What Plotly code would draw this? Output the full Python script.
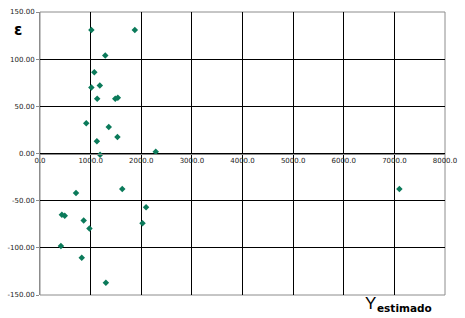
import plotly.graph_objects as go

y_estimado = [1015, 1873, 1289, 1073, 1015, 1181, 1130, 1486, 1537, 914, 1358, 1124, 1530, 1187, 2286,
              711, 1625, 432, 489, 863, 977, 2095, 2025, 413, 825, 1301, 7099]
epsilon = [131, 131, 104, 86, 70, 72, 58, 58, 59, 32, 28, 13, 17.5, -1.4, 1.8,
           -42, -37.5, -65, -66, -71, -79.5, -57, -74, -98, -110.6, -137, -37.5]

x_ticks = [0, 1000, 2000, 3000, 4000, 5000, 6000, 7000, 8000]
x_tick_labels = ["0.0", "1000.0", "2000.0", "3000.0", "4000.0", "5000.0", "6000.0", "7000.0", "8000.0"]
y_ticks = [-150, -100, -50, 0, 50, 100, 150]
y_tick_labels = ["-150.00", "-100.00", "-50.00", "0.00", "50.00", "100.00", "150.00"]

fig = go.Figure()
fig.add_trace(go.Scatter(
    x=y_estimado, y=epsilon, mode="markers",
    marker=dict(symbol="diamond", size=5, color="#0b7a5a",
                line=dict(width=0, color="#06553e")),
    showlegend=False, hoverinfo="skip"))

tick_font = dict(family="DejaVu Sans", size=7, color="#222222")

fig.update_layout(
    width=465, height=318,
    margin=dict(l=37, r=8, t=9, b=23),
    paper_bgcolor="white", plot_bgcolor="white",
    xaxis=dict(range=[0, 8000], tickvals=x_ticks, ticktext=x_tick_labels,
               showgrid=True, gridcolor="black", gridwidth=1,
               zeroline=False, showline=True, linecolor="#8c8c8c", linewidth=1,
               anchor="free", position=0.5, ticks="", tickfont=tick_font,
               ticklabeloverflow="allow"),
    yaxis=dict(range=[-150, 150], tickvals=y_ticks, ticktext=y_tick_labels,
               showgrid=True, gridcolor="black", gridwidth=1,
               zeroline=False, showline=True, linecolor="#8c8c8c", linewidth=1,
               ticks="outside", ticklen=3, tickcolor="#8c8c8c", tickfont=tick_font,
               ticklabeloverflow="allow"),
)

fig.add_shape(type="rect", xref="x domain", yref="y domain", x0=0, x1=1, y0=0, y1=1,
              line=dict(color="#8c8c8c", width=1), layer="below")

fig.add_annotation(text="<b>ε</b>", xref="paper", yref="paper", x=-0.054, y=0.937,
                   xanchor="center", yanchor="middle", showarrow=False,
                   font=dict(family="DejaVu Sans", size=15, color="black"))
fig.add_annotation(text="Y", xref="paper", yref="paper",
                   x=0.816, y=-0.03, xanchor="center", yanchor="middle", showarrow=False,
                   font=dict(family="Liberation Sans", size=17, color="black"))
fig.add_annotation(text="<b>estimado</b>", xref="paper", yref="paper",
                   x=0.828, y=-0.045, xanchor="left", yanchor="middle", showarrow=False,
                   font=dict(family="DejaVu Sans", size=10.5, color="black"))

fig.write_html("out.html", config={"displayModeBar": False},
               post_script="document.body.style.margin='0';document.body.style.padding='0';")
